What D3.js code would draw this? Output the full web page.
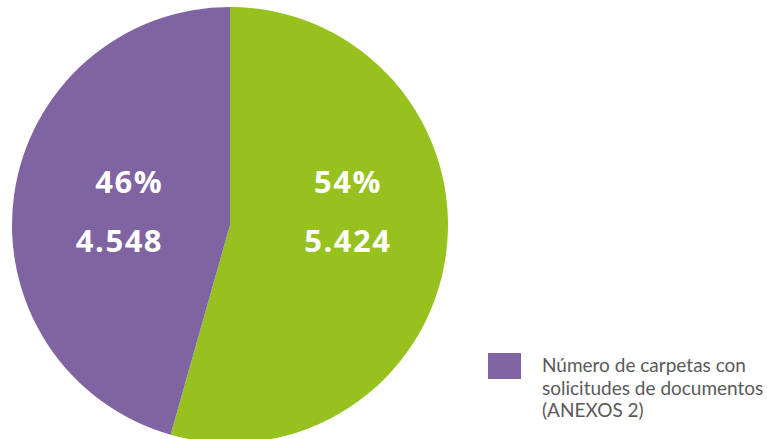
<!DOCTYPE html>
<html>
<head>
<meta charset="utf-8">
<script src="https://cdn.jsdelivr.net/npm/d3@7/dist/d3.min.js"></script>
<style>
  html, body { margin: 0; padding: 0; background: #ffffff; }
  svg { display: block; }
</style>
</head>
<body>
<svg id="chart" width="767" height="439"></svg>
<script>
// Slices in drawing order, clockwise from 12 o'clock
const sliceKeys = ["sin", "con"];
const sliceValues = [5424, 4548];
const sliceColors = ["#96C11F", "#8064A2"];
const percentLabels = ["54%", "46%"];
const countLabels = ["5.424", "4.548"];

// Legend shows the folders with document requests only
const legendKeys = ["con"];
const legendLines = [["Número de carpetas con", "solicitudes de documentos", "(ANEXOS 2)"]];

const cx = 230, cy = 225, R = 218;

const svg = d3.select("#chart");
const g = svg.append("g").attr("transform", `translate(${cx},${cy})`);

const color = d3.scaleOrdinal().domain(sliceKeys).range(sliceColors);

const pie = d3.pie().sort(null).value(d => d.value);
const data = sliceKeys.map((k, i) => ({ key: k, value: sliceValues[i], pct: percentLabels[i], count: countLabels[i] }));
const arcs = pie(data);

const arc = d3.arc().innerRadius(0).outerRadius(R);
const labelArc = d3.arc().innerRadius(R * 0.546).outerRadius(R * 0.546);

g.selectAll("path.slice")
  .data(arcs)
  .join("path")
  .attr("class", "slice")
  .attr("d", arc)
  .attr("fill", d => color(d.data.key));

// Per-slice text anchoring: right slice centred, left slice right-aligned
const labelLayout = {
  sin: { anchor: "middle", dx: 0 },
  con: { anchor: "end", dx: 51 }
};

// Both label blocks sit on the same rows, horizontally placed from the slice centroid
const labels = g.selectAll("g.lbl")
  .data(arcs)
  .join("g")
  .attr("class", "lbl")
  .attr("transform", d => {
    const [x] = labelArc.centroid(d);
    return `translate(${x + labelLayout[d.data.key].dx},0)`;
  });

const styleLabel = sel => sel
  .attr("text-anchor", d => labelLayout[d.data.key].anchor)
  .attr("fill", "#ffffff")
  .style("font-family", "'Open Sans', sans-serif")
  .style("font-weight", 700)
  .style("font-size", "31px")
  .style("letter-spacing", "1.5px");

labels.append("text")
  .attr("y", -32)
  .call(styleLabel)
  .text(d => d.data.pct);

labels.append("text")
  .attr("y", 27)
  .call(styleLabel)
  .text(d => d.data.count);

// Legend
const legend = svg.append("g").attr("transform", "translate(488,353)");
legendKeys.forEach((k, i) => {
  const item = legend.append("g").attr("transform", `translate(0,${i * 80})`);
  item.append("rect")
    .attr("width", 33)
    .attr("height", 26)
    .attr("fill", color(k));
  const t = item.append("text")
    .attr("x", 54)
    .attr("y", 19)
    .attr("fill", "#595959")
    .style("font-family", "Lato, sans-serif")
    .style("font-size", "19px");
  legendLines[i].forEach((line, j) => {
    t.append("tspan").attr("x", 54).attr("dy", j === 0 ? 0 : 22.5).text(line);
  });
});
</script>
</body>
</html>
